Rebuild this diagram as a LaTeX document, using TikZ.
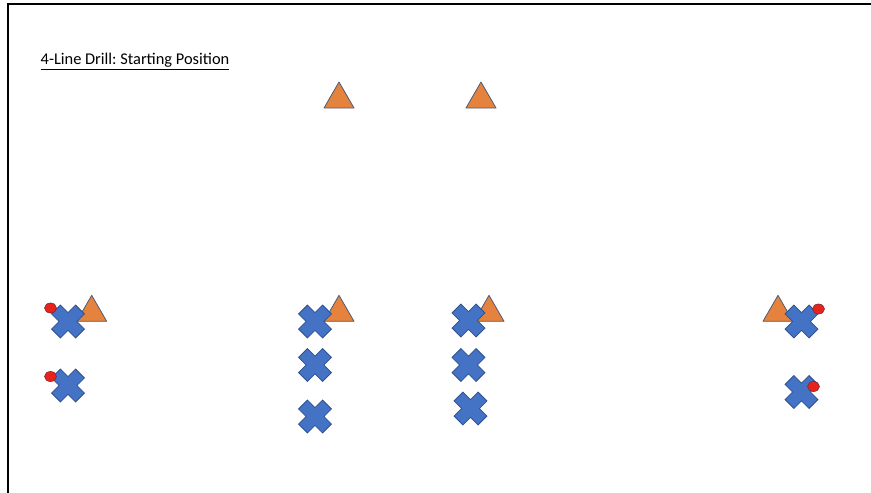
\documentclass[tikz,border=0pt]{standalone}
\usepackage{fontspec}
\setmainfont{Carlito}
\frenchspacing
\definecolor{coneorange}{HTML}{E5823D}
\definecolor{coneline}{HTML}{4F5B75}
\definecolor{playerblue}{HTML}{4472C4}
\definecolor{playerline}{HTML}{2F528F}
\definecolor{ballred}{HTML}{E8231C}
\definecolor{ballline}{HTML}{7A2A30}
\tikzset{
	frame/.style={line width=2pt, black},
	cone/.pic={\draw[fill=coneorange, draw=coneline, line width=0.8pt, line join=round] (0,-13) -- (15,13) -- (-15,13) -- cycle;},
	player/.pic={\draw[fill=playerblue, draw=playerline, line width=0.8pt, rotate=45] (17,6.3) -- (6.3,6.3) -- (6.3,17) -- (-6.3,17) -- (-6.3,6.3) -- (-17,6.3) -- (-17,-6.3) -- (-6.3,-6.3) -- (-6.3,-17) -- (6.3,-17) -- (6.3,-6.3) -- (17,-6.3) -- cycle;},
	ball/.pic={\draw[fill=ballred, draw=ballline, line width=0.6pt] (0,0) ellipse (6 and 5);}
}

\begin{document}
\begin{tikzpicture}[x=1pt, y=-1pt]
        \useasboundingbox (0,0) rectangle (871,493);
        \draw[frame] (8.3,493) -- (8.3,4.3) -- (871,4.3);

        \node[anchor=base west, inner sep=0pt, font=\fontsize{16.4}{18}\selectfont] (title) at (40.5,64.5) {\underline{4-Line Drill: Starting Position}};

        \pic at (339,95) {cone};
        \pic at (481,95) {cone};
        \pic at (91.7,308.3) {cone};
        \pic at (339,308.3) {cone};
        \pic at (489,308.3) {cone};
        \pic at (778,308.3) {cone};

        \pic at (68,321.5) {player};
        \pic at (68,385.5) {player};
        \pic at (315,321.5) {player};
        \pic at (315,365) {player};
        \pic at (315,416.5) {player};
        \pic at (468.5,320.5) {player};
        \pic at (468.5,365) {player};
        \pic at (470.5,408.5) {player};
        \pic at (801.5,321.5) {player};
        \pic at (801.5,392) {player};

        \pic at (50.5,308) {ball};
        \pic at (50.5,376.5) {ball};
        \pic at (818.5,309) {ball};
        \pic at (813.5,386.5) {ball};
    \end{tikzpicture}
\end{document}
